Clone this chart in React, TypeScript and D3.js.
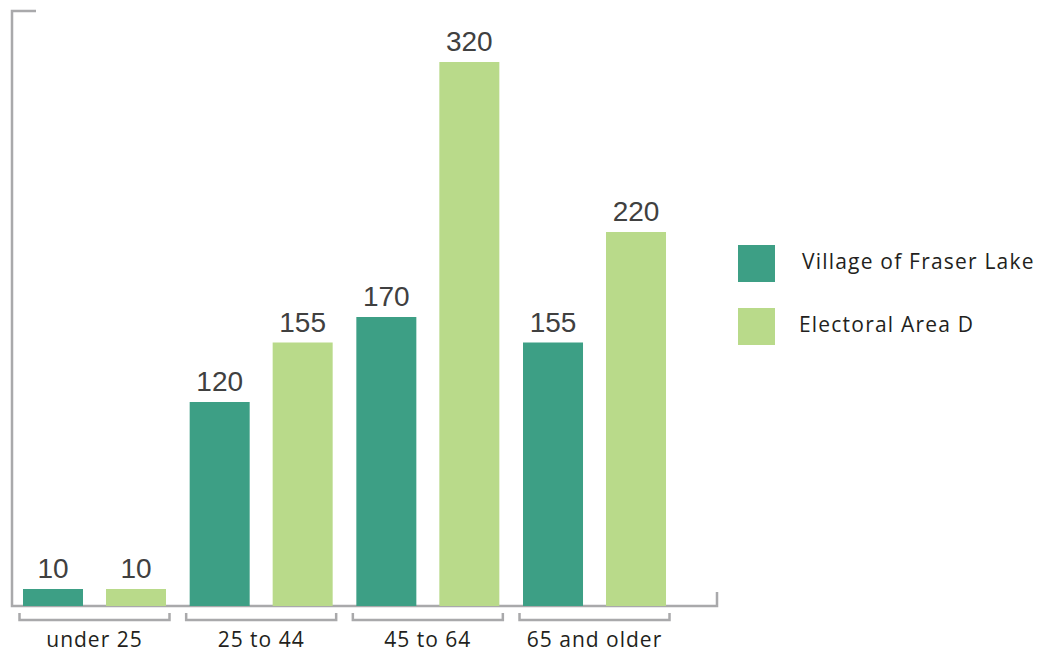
import React from 'react';
import * as d3 from 'd3';

const categories = ['under 25', '25 to 44', '45 to 64', '65 and older'];
const series = ['Village of Fraser Lake', 'Electoral Area D'];
const fraserLake = [10, 120, 170, 155];
const areaD = [10, 155, 320, 220];

const colors = ['#3d9f85', '#b9da8a'];
const axisColor = '#a9a9ab';
const labelFont = '"Open Sans", Lato, sans-serif';
const valueFont = '"Liberation Sans", Arial, sans-serif';

const App: React.FC = () => {
    const width = 1042;
    const height = 654;
    const values = [fraserLake, areaD];

    // y: 1.7 px per unit, baseline at 606
    const y = d3.scaleLinear().domain([0, 350]).range([606, 11]);

    const x0 = d3.scaleBand<string>()
        .domain(categories)
        .range([23, 23 + 166.67 * categories.length])
        .paddingInner(0)
        .paddingOuter(0);

    const x1 = d3.scaleBand<string>()
        .domain(series)
        .range([0, 143])
        .paddingInner(0.277)
        .paddingOuter(0);

    return (
        <svg width={width} height={height} style={{ position: 'absolute', left: 0, top: 0 }}>
            {/* axis frame */}
            <path d={`M36,${y(350)}H12V${y(0)}H717V592`} fill="none" stroke={axisColor} strokeWidth={2.5} />

            {categories.map((cat, ci) => {
                const gx = x0(cat)!;
                const center = gx + 143 / 2;
                return (
                    <g key={cat}>
                        {series.map((s, si) => {
                            const v = values[si][ci];
                            const bx = gx + x1(s)!;
                            return (
                                <g key={s}>
                                    <rect x={bx} y={y(v)} width={x1.bandwidth()} height={y(0) - y(v)} fill={colors[si]} />
                                    <text x={bx + x1.bandwidth() / 2} y={y(v) - 11} textAnchor="middle"
                                        fontFamily={valueFont} fontSize={28} fill="#404040">{v}</text>
                                </g>
                            );
                        })}
                        <path d={`M${center - 75},613V620H${center + 75}V613`} fill="none" stroke={axisColor} strokeWidth={2.5} />
                        <text x={center} y={647} textAnchor="middle" fontFamily={labelFont} fontSize={21}
                            letterSpacing={1} fill="#231f20">{cat}</text>
                    </g>
                );
            })}

            {series.map((s, si) => (
                <g key={s} transform={`translate(738,${245 + si * 63})`}>
                    <rect width={37} height={37} fill={colors[si]} />
                    <text x={si === 0 ? 64 : 61} y={24} fontFamily={labelFont} fontSize={21}
                        letterSpacing={1.2} fill="#231f20">{s}</text>
                </g>
            ))}
        </svg>
    );
};

export default App;
